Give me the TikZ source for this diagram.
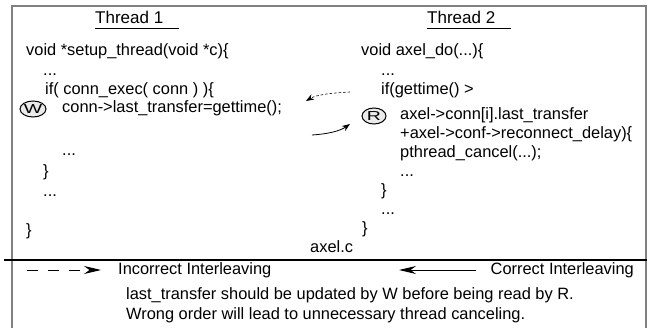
\documentclass[tikz,border=0pt]{standalone}
\usepackage{fontspec}
\setmainfont{Liberation Sans}
\usetikzlibrary{arrows.meta,shapes.geometric}
\begin{document}
\begin{tikzpicture}[x=1pt,y=-1pt,
  code/.style={anchor=west,inner sep=0pt,text height=11pt,text depth=3pt,font=\fontsize{16.4}{19}\selectfont},
  head/.style={code,font=\fontsize{17}{20}\selectfont},
  tag/.style={ellipse,draw=black,line width=1pt,fill=black!8,minimum width=24pt,minimum height=16pt,inner sep=0pt,font=\fontsize{13}{13}\selectfont},
  frame/.style={draw=black!50,line width=1.8pt},
  tipA/.style={-{Stealth[length=8pt,width=6pt]}},
  tipL/.style={-{Stealth[length=17pt,width=8pt]}},
]
\useasboundingbox (0,0) rectangle (652,328);
% outer frame and separator
\draw[frame] (12,328) -- (12,6) -- (646,6) -- (646,328);
\draw[line width=1.3pt] (4,260) -- (647,260);

% headings
\node[head] (h1) at (95,20) {Thread 1};
\draw[line width=1.2pt] (h1.south west) ++(0,1.5) -- ++(84,0);
\node[head] (h2) at (427,20) {Thread 2};
\draw[line width=1.2pt] (h2.south west) ++(0,1.5) -- ++(84,0);

% thread 1 code
\node[code] (a1) at (26,52) {void *setup\_thread(void *c)\{};
\node[code] (a2) at (43,72) {...};
\node[code] (a3) at (45,91) {if( conn\_exec( conn ) )\{};
\node[tag]  (W)  at (33,109) {\scalebox{1.5}[1]{W}};
\node[code] (a4) at (62,109) {conn->last\_transfer=gettime();};
\node[code] (a5) at (62,152) {...};
\node[code] (a6) at (43,173) {\}};
\node[code] (a7) at (43,193) {...};
\node[code] (a8) at (26,232) {\}};

% thread 2 code
\node[code] (b1) at (361,52) {void axel\_do(...)\{};
\node[code] (b2) at (381,72) {...};
\node[code] (b3) at (381,91) {if(gettime() >};
\node[tag]  (R)  at (374,116) {\scalebox{1.5}[1]{R}};
\node[code] (b4) at (400,116) {axel->conn[i].last\_transfer};
\node[code] (b5) at (400,135) {+axel->conf->reconnect\_delay)\{};
\node[code] (b6) at (400,154) {pthread\_cancel(...);};
\node[code] (b7) at (400,173) {...};
\node[code] (b8) at (381,192) {\}};
\node[code] (b9) at (381,211) {...};
\node[code] (b10) at (362,230) {\}};

\node[code] (file) at (310,248) {axel.c};

% interleaving arrows between the threads
\coordinate (d0) at (350,92);
\coordinate (d1) at (306,101);
\draw[dash pattern=on 2.5pt off 2pt,line width=0.6pt,tipA] (d0) .. controls (330,93) and (316,95) .. (d1);
\coordinate (s0) at (312,135);
\coordinate (s1) at (350,124);
\draw[line width=0.8pt,tipA] (s0) .. controls (328,134) and (340,131) .. (s1);

% legend
\coordinate (l0) at (27,270);
\coordinate (l1) at (101,270);
\draw[line width=0.9pt,dash pattern=on 11pt off 10pt,tipL] (l0) -- (l1);
\node[code] (inc) at (118,270) {Incorrect Interleaving};
\coordinate (r0) at (476,270);
\coordinate (r1) at (399,270);
\draw[line width=1pt,tipL] (r0) -- (r1);
\node[code,anchor=east] (cor) at (634,270) {Correct Interleaving};

\node[code] (n1) at (126,295) {last\_transfer should be updated by W before being read by R.};
\node[code] (n2) at (126,315) {Wrong order will lead to unnecessary thread canceling.};
\end{tikzpicture}
\end{document}
